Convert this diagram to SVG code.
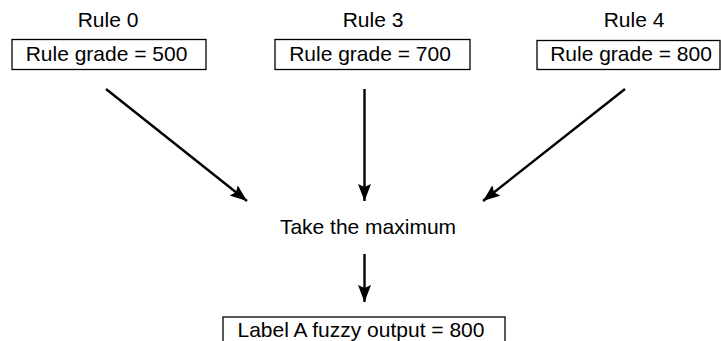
<svg xmlns="http://www.w3.org/2000/svg" width="721" height="341" viewBox="0 0 721 341">
<style>
text{font-family:"Liberation Sans",Arial,sans-serif;font-size:21px;fill:#000;text-anchor:middle}
.box{fill:#fff;stroke:#000;stroke-width:1.3}
.conn{stroke:#000;stroke-width:2.4;fill:none;marker-end:url(#ah)}
</style>
<defs>
<marker id="ah" markerUnits="userSpaceOnUse" markerWidth="20" markerHeight="14" refX="17" refY="6.5" orient="auto">
<polygon points="0,0 17,6.5 0,13 3,6.5" fill="#000"/>
</marker>
</defs>
<rect width="721" height="341" fill="#fff"/>
<g id="rule0">
<text x="108" y="27">Rule 0</text>
<rect class="box" x="12" y="39.5" width="194" height="30"/>
<text x="106.5" y="61">Rule grade = 500</text>
</g>
<g id="rule3">
<text x="373" y="27">Rule 3</text>
<rect class="box" x="275" y="39.5" width="195" height="30"/>
<text x="370" y="61">Rule grade = 700</text>
</g>
<g id="rule4">
<text x="634" y="27">Rule 4</text>
<rect class="box" x="537" y="40.5" width="183" height="29"/>
<text x="631" y="61">Rule grade = 800</text>
</g>
<g id="max">
<text x="368" y="234">Take the maximum</text>
</g>
<g id="output">
<rect class="box" x="223" y="317" width="282" height="30"/>
<text x="361" y="337">Label A fuzzy output = 800</text>
</g>
<g id="connectors">
<line class="conn" x1="106" y1="89" x2="247" y2="201"/>
<line class="conn" x1="364.5" y1="89" x2="364.5" y2="201"/>
<line class="conn" x1="625" y1="89" x2="483" y2="201"/>
<line class="conn" x1="364.5" y1="254" x2="364.5" y2="302"/>
</g>
</svg>
